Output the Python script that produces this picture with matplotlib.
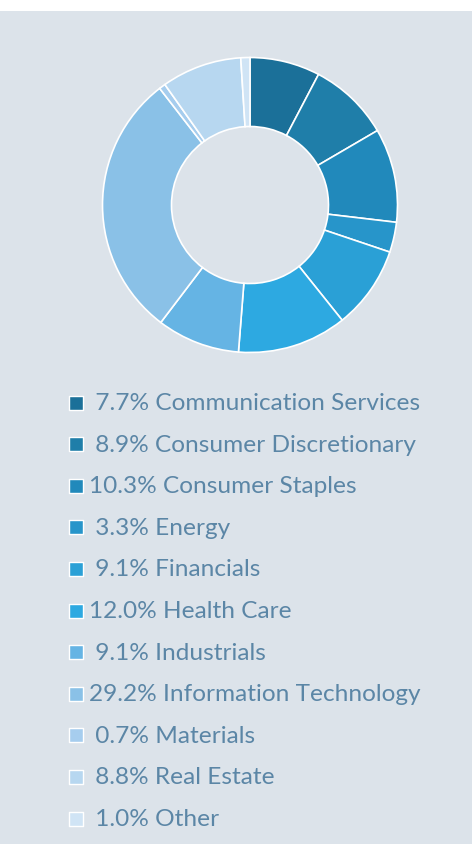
import matplotlib
matplotlib.use("Agg")
import matplotlib.pyplot as plt
from matplotlib.patches import Rectangle

# sector weights, in drawing order (clockwise from 12 o'clock)
sectors = ["Communication Services", "Consumer Discretionary", "Consumer Staples",
           "Energy", "Financials", "Health Care", "Industrials",
           "Information Technology", "Materials", "Real Estate", "Other"]
weights = [7.7, 8.9, 10.3, 3.3, 9.1, 12.0, 9.1, 29.2, 0.7, 8.8, 1.0]
colors = ["#1b7099", "#1f7ea9", "#2189bb", "#2795ca", "#2aa0d6", "#2da9e1",
          "#65b4e4", "#8ac1e7", "#a6cdee", "#b7d7f0", "#d0e4f5"]

bg = "#dce3ea"
text_col = "#5b86a6"

W, H = 472, 845
fig = plt.figure(figsize=(W / 100, H / 100), dpi=100, facecolor="white")

# full-figure axes in pixel units for the panel and the legend
base = fig.add_axes([0, 0, 1, 1])
base.set_xlim(0, W)
base.set_ylim(H, 0)
base.axis("off")
base.add_patch(Rectangle((0, 12), W, H - 12, facecolor=bg, edgecolor="none"))

# legend rows
row0, step = 403.5, 41.6
for i, (name, w, c) in enumerate(zip(sectors, weights, colors)):
    y = row0 + i * step
    base.scatter([75.5], [y], marker="s", s=105, color=c, edgecolors="white", linewidths=1.0)
    label = ("%.1f%% %s" % (w, name))
    if w < 10:
        label = " " + label
    base.text(89, y, label, color=text_col, fontsize=17.6, family="Lato",
              va="center", ha="left")

# donut
cx, cy, r = 250, 206, 147.5
size = 2 * r * 1.05
ax = fig.add_axes([(cx - size / 2) / W, (H - cy - size / 2) / H, size / W, size / H])
ax.pie(weights, colors=colors, startangle=90, counterclock=False,
       wedgeprops=dict(width=1 - 78.5 / 147.5, edgecolor="white", linewidth=1.2))
ax.set_xlim(-1.05, 1.05)
ax.set_ylim(-1.05, 1.05)
ax.set_aspect("equal")
ax.axis("off")

fig.savefig("out.png", dpi=100, facecolor="white")
